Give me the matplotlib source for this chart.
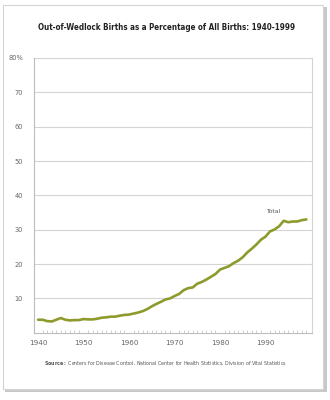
import numpy as np
import matplotlib.pyplot as plt
from matplotlib.patches import Rectangle

years = list(range(1940, 2000))
pct = [3.8, 3.8, 3.4, 3.3, 3.8, 4.3, 3.8, 3.6, 3.7, 3.7,
       4.0, 3.9, 3.9, 4.1, 4.4, 4.5, 4.7, 4.7, 5.0, 5.2,
       5.3, 5.6, 5.9, 6.3, 6.9, 7.7, 8.4, 9.0, 9.7, 10.0,
       10.7, 11.3, 12.4, 13.0, 13.2, 14.3, 14.8, 15.5, 16.3, 17.1,
       18.4, 18.9, 19.4, 20.3, 21.0, 22.0, 23.4, 24.5, 25.7, 27.1,
       28.0, 29.5, 30.1, 31.0, 32.6, 32.2, 32.4, 32.4, 32.8, 33.0]
y_ticks = [10, 20, 30, 40, 50, 60, 70, 80]
y_labels = ["10", "20", "30", "40", "50", "60", "70", "80%"]
x_ticks = [1940, 1950, 1960, 1970, 1980, 1990]

fig = plt.figure(figsize=(3.3, 4.0), dpi=100)
fig.patch.set_facecolor("white")

# card with a soft shadow
fig.patches.append(Rectangle((0.015, 0.02), 0.975, 0.963, transform=fig.transFigure,
                             facecolor="#c8c8c8", edgecolor="none", zorder=0))
fig.patches.append(Rectangle((0.009, 0.027), 0.97, 0.96, transform=fig.transFigure,
                             facecolor="white", edgecolor="#d4d4d4", lw=0.8, zorder=1))

ax = fig.add_axes([0.103, 0.168, 0.842, 0.687])
ax.set_zorder(2)
ax.plot(years, pct, color="#8f9a2c", lw=1.9, solid_capstyle="round")

ax.set_xlim(1939.1, 2000.2)
ax.set_ylim(0, 80)
ax.set_yticks(y_ticks)
ax.set_yticklabels(y_labels)
ax.set_xticks(x_ticks)
ax.set_xticks(years, minor=True)
ax.grid(axis="y", color="#d4d4d4", lw=0.8)
ax.set_axisbelow(True)

for s in ax.spines.values():
    s.set_color("#bdbdbd")
    s.set_linewidth(0.8)
ax.spines["top"].set_visible(False)
ax.spines["right"].set_color("#d4d4d4")

ax.tick_params(axis="y", length=0, pad=8, labelsize=4.8, labelcolor="#666666")
ax.tick_params(axis="x", which="major", length=0, pad=5, labelsize=5.2, labelcolor="#666666")
ax.tick_params(axis="x", which="minor", direction="in", length=2, color="#bdbdbd", width=0.5)

ax.text(1993.2, 35.0, "Total", fontsize=4.3, color="#555555", ha="right")

fig.text(0.506, 0.93, "Out-of-Wedlock Births as a Percentage of All Births: 1940-1999",
         ha="center", va="center", fontsize=5.8, family="DejaVu Sans",
         fontstretch="condensed", fontweight="bold", color="#222222")
fig.text(0.5, 0.092, "$\\bf{Source:}$ Centers for Disease Control, National Center for Health Statistics, Division of Vital Statistics",
         ha="center", va="center", fontsize=3.4, color="#555555")

fig.savefig("out.png", dpi=100)
